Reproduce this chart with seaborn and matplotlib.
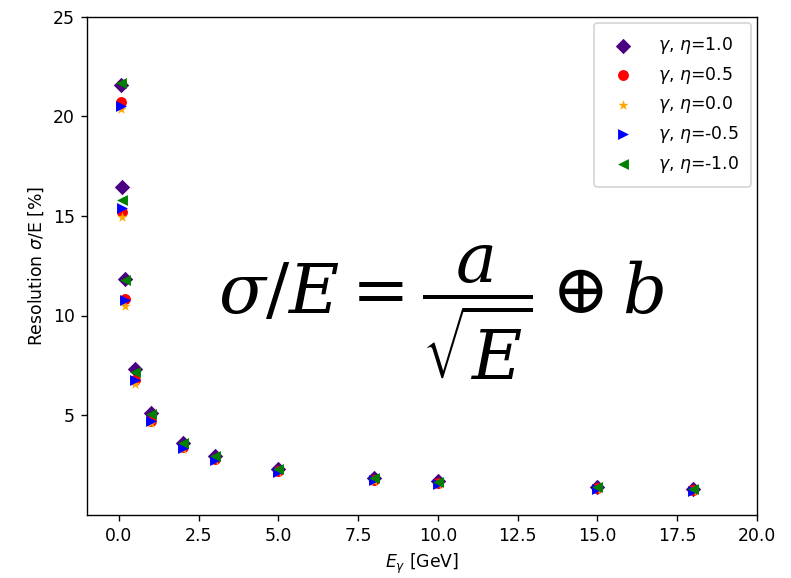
import matplotlib
matplotlib.use("Agg")
import matplotlib.pyplot as plt
import seaborn as sns
import pandas as pd

energies = [0.05, 0.1, 0.2, 0.5, 1.0, 2.0, 3.0, 5.0, 8.0, 10.0, 15.0, 18.0]
res_eta_p10 = [21.6, 16.45, 11.85, 7.3, 5.08, 3.6, 2.95, 2.3, 1.85, 1.66, 1.4, 1.3]
res_eta_p05 = [20.75, 15.2, 10.85, 6.75, 4.72, 3.38, 2.78, 2.17, 1.73, 1.56, 1.31, 1.21]
res_eta_00 = [20.4, 14.97, 10.5, 6.55, 4.62, 3.3, 2.72, 2.12, 1.7, 1.53, 1.28, 1.18]
res_eta_m05 = [20.55, 15.4, 10.8, 6.75, 4.7, 3.36, 2.76, 2.16, 1.72, 1.55, 1.3, 1.2]
res_eta_m10 = [21.7, 15.8, 11.78, 7.18, 5.05, 3.58, 2.93, 2.28, 1.84, 1.65, 1.39, 1.29]

series = [
    (res_eta_p10, 'D', 'indigo', r'$\gamma$, $\eta$=1.0'),
    (res_eta_p05, 'o', 'red', r'$\gamma$, $\eta$=0.5'),
    (res_eta_00, '*', 'orange', r'$\gamma$, $\eta$=0.0'),
    (res_eta_m05, '>', 'blue', r'$\gamma$, $\eta$=-0.5'),
    (res_eta_m10, '<', 'green', r'$\gamma$, $\eta$=-1.0'),
]

fig = plt.figure(figsize=(791 / 124, 578 / 124), dpi=124)
ax = fig.add_axes([87 / 791, 1 - 514.5 / 578, (757 - 87) / 791, (514.5 - 17) / 578])

for vals, m, c, lbl in series:
    df = pd.DataFrame({'E': energies, 'res': vals})
    sns.scatterplot(data=df, x='E', y='res', marker=m, color=c, label=lbl,
                    s=40, linewidth=0, ax=ax)

ax.set_xlim(-1, 20)
ax.set_ylim(0, 25)
ax.set_xticks([0, 2.5, 5, 7.5, 10, 12.5, 15, 17.5, 20])
ax.set_xticklabels(['0.0', '2.5', '5.0', '7.5', '10.0', '12.5', '15.0', '17.5', '20.0'])
ax.set_yticks([5, 10, 15, 20, 25])
ax.set_xlabel(r'$E_{\gamma}$ [GeV]')
ax.set_ylabel(r'Resolution $\sigma$/E [%]')

ax.text(10.1, 10.1, r'$\sigma/E = \dfrac{a}{\sqrt{E}} \oplus b$', fontsize=40,
        ha='center', va='center', math_fontfamily='dejavuserif')

ax.legend(loc='upper right', borderpad=0.7, labelspacing=0.5, handletextpad=1.0,
          borderaxespad=0.35)

fig.savefig('out.png', dpi=124)
